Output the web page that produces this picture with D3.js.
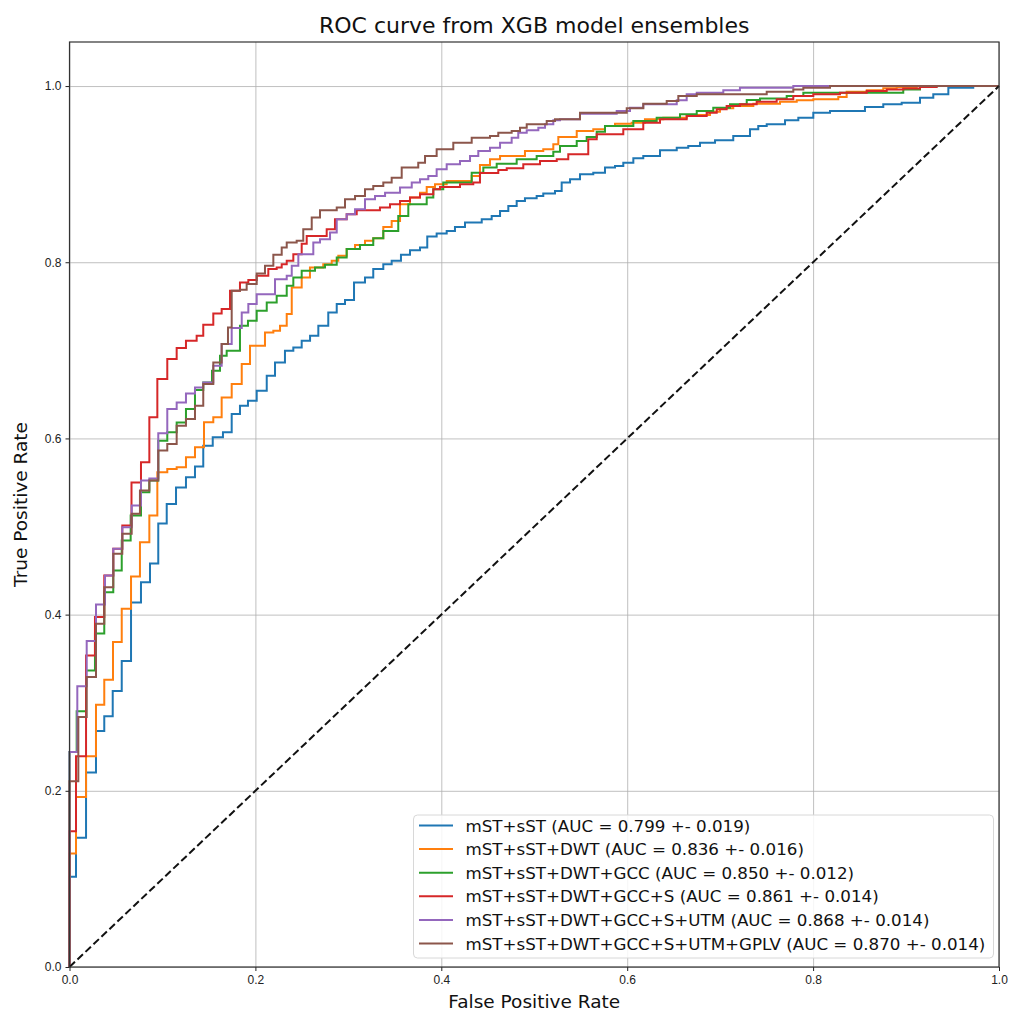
<!DOCTYPE html>
<html>
<head>
<meta charset="utf-8">
<script src="https://cdn.jsdelivr.net/npm/d3@7"></script>
<style>
  body { margin: 0; background: #fff; }
  svg { font-family: "DejaVu Sans", sans-serif; }
  .grid line { stroke: #b0b0b0; stroke-width: 1; stroke-opacity: 0.8; }
  .grid path { display: none; }
  .axis text { font-size: 12px; fill: #222; }
  .axis line { stroke: #222; }
  .axis path { display: none; }
</style>
</head>
<body>
<svg id="chart" width="1011" height="1014"></svg>
<script>
// ROC points [fpr, tpr]
var rocST = [[0,0],[0,0.1024],[0.0070,0.1466],[0.0178,0.2207],[0.0285,0.2679],[0.0374,0.2846],[0.0465,0.3133],
    [0.0562,0.3473],[0.0662,0.4138],[0.0769,0.4368],[0.0866,0.4580],[0.0955,0.5034],[0.1046,0.5257],[0.1146,0.5442],
    [0.1253,0.5559],[0.1350,0.5680],[0.1439,0.5918],[0.1541,0.6012],[0.1651,0.6069],[0.1745,0.6278],[0.1834,0.6372],
    [0.1920,0.6429],[0.2014,0.6542],[0.2122,0.6712],[0.2211,0.6863],[0.2318,0.6995],[0.2408,0.7033],[0.2498,0.7109],
    [0.2588,0.7166],[0.2677,0.7279],[0.2784,0.7430],[0.2875,0.7525],[0.2964,0.7570],[0.3061,0.7770],[0.3179,0.7827],
    [0.3268,0.7922],[0.3376,0.7978],[0.3466,0.8016],[0.3566,0.8084],[0.3663,0.8137],[0.3771,0.8167],[0.3849,0.8291],
    [0.3950,0.8325],[0.4058,0.8356],[0.4147,0.8401],[0.4255,0.8450],[0.4435,0.8489],[0.4542,0.8526],[0.4632,0.8583],
    [0.4721,0.8639],[0.4811,0.8696],[0.4900,0.8727],[0.5026,0.8753],[0.5097,0.8779],[0.5223,0.8810],[0.5295,0.8904],
    [0.5385,0.8942],[0.5492,0.8999],[0.5635,0.9017],[0.5761,0.9074],[0.5869,0.9093],[0.5958,0.9130],[0.6066,0.9180],
    [0.6173,0.9206],[0.6353,0.9271],[0.6533,0.9300],[0.6657,0.9320],[0.6783,0.9357],[0.6945,0.9384],[0.7141,0.9433],
    [0.7321,0.9509],[0.7410,0.9546],[0.7501,0.9566],[0.7698,0.9611],[0.7841,0.9640],[0.8002,0.9697],[0.8182,0.9717],
    [0.8558,0.9762],[0.8755,0.9792],[0.8953,0.9810],[0.9150,0.9867],[0.9293,0.9906],[0.9455,0.9980],[0.9723,1],[1,1]]

var rocDWT = [[0,0],[0,0.1289],[0.0070,0.1931],[0.0178,0.2392],[0.0285,0.2978],[0.0374,0.3262],[0.0468,0.3690],
    [0.0562,0.4067],[0.0662,0.4433],[0.0758,0.4822],[0.0859,0.5125],[0.0945,0.5616],[0.1052,0.5654],[0.1153,0.5672],
    [0.1253,0.5786],[0.1350,0.5899],[0.1447,0.6183],[0.1547,0.6239],[0.1637,0.6466],[0.1745,0.6618],[0.1853,0.6845],
    [0.1942,0.7052],[0.2103,0.7203],[0.2193,0.7222],[0.2265,0.7279],[0.2337,0.7412],[0.2391,0.7713],[0.2498,0.7827],
    [0.2587,0.7940],[0.2730,0.7978],[0.2821,0.8016],[0.2892,0.8073],[0.2982,0.8149],[0.3072,0.8197],[0.3179,0.8243],
    [0.3268,0.8273],[0.3376,0.8401],[0.3466,0.8469],[0.3556,0.8659],[0.3663,0.8734],[0.3771,0.8790],[0.3843,0.8855],
    [0.3932,0.8886],[0.4058,0.8923],[0.4327,0.8980],[0.4416,0.9104],[0.4524,0.9169],[0.4632,0.9206],[0.4900,0.9263],
    [0.5097,0.9282],[0.5205,0.9339],[0.5259,0.9422],[0.5457,0.9490],[0.5635,0.9509],[0.5761,0.9546],[0.5869,0.9572],
    [0.6048,0.9584],[0.6191,0.9623],[0.6388,0.9640],[0.6640,0.9671],[0.6891,0.9709],[0.6998,0.9747],[0.7141,0.9773],
    [0.7357,0.9800],[0.7644,0.9822],[0.7824,0.9838],[0.8002,0.9849],[0.8271,0.9875],[0.8361,0.9935],[0.8577,0.9951],
    [0.8755,0.9974],[0.8899,0.9989],[0.9115,1],[1,1]]

var rocGCC = [[0,0],[0,0.2441],[0.0077,0.2902],[0.0178,0.3367],[0.0274,0.3787],[0.0374,0.4255],[0.0471,0.4501],
    [0.0562,0.4841],[0.0658,0.5125],[0.0769,0.5389],[0.0859,0.5522],[0.0955,0.5975],[0.1052,0.6069],[0.1153,0.6182],
    [0.1253,0.6334],[0.1350,0.6550],[0.1439,0.6636],[0.1533,0.6769],[0.1619,0.6939],[0.1691,0.6995],[0.1834,0.7279],
    [0.1920,0.7336],[0.2014,0.7450],[0.2122,0.7543],[0.2229,0.7619],[0.2337,0.7732],[0.2408,0.7826],[0.2498,0.7902],
    [0.2641,0.7940],[0.2749,0.7971],[0.2875,0.8053],[0.2982,0.8149],[0.3125,0.8197],[0.3268,0.8273],[0.3376,0.8356],
    [0.3537,0.8526],[0.3645,0.8659],[0.3843,0.8734],[0.3914,0.8829],[0.4021,0.8904],[0.4327,0.9017],[0.4452,0.9074],
    [0.4596,0.9119],[0.4811,0.9169],[0.5026,0.9206],[0.5205,0.9255],[0.5277,0.9320],[0.5457,0.9376],[0.5564,0.9422],
    [0.5672,0.9482],[0.5761,0.9546],[0.6066,0.9603],[0.6317,0.9640],[0.6568,0.9679],[0.6748,0.9717],[0.6926,0.9754],
    [0.7106,0.9792],[0.7286,0.9841],[0.7429,0.9860],[0.7716,0.9887],[0.7895,0.9924],[0.8970,0.9962],[0.9150,1],[1,1]]

var rocS = [[0,0],[0,0.1542],[0.0070,0.2392],[0.0178,0.3537],[0.0274,0.3972],[0.0374,0.4444],[0.0471,0.4747],
    [0.0568,0.5011],[0.0667,0.5499],[0.0769,0.5729],[0.0859,0.6239],[0.0945,0.6675],[0.1052,0.6901],[0.1153,0.7026],
    [0.1253,0.7109],[0.1368,0.7166],[0.1439,0.7290],[0.1547,0.7418],[0.1637,0.7468],[0.1727,0.7676],[0.1834,0.7770],
    [0.1924,0.7797],[0.2014,0.7846],[0.2139,0.7922],[0.2229,0.7940],[0.2283,0.7978],[0.2337,0.8016],[0.2408,0.8092],
    [0.2498,0.8209],[0.2552,0.8299],[0.2767,0.8375],[0.2856,0.8489],[0.2982,0.8545],[0.3090,0.8591],[0.3340,0.8620],
    [0.3448,0.8659],[0.3556,0.8696],[0.3663,0.8734],[0.3771,0.8772],[0.3914,0.8829],[0.3986,0.8855],[0.4201,0.8886],
    [0.4344,0.8904],[0.4416,0.9014],[0.4613,0.9048],[0.4704,0.9067],[0.4882,0.9112],[0.5062,0.9150],[0.5242,0.9169],
    [0.5366,0.9226],[0.5581,0.9396],[0.5672,0.9452],[0.5958,0.9509],[0.6173,0.9584],[0.6353,0.9623],[0.6640,0.9660],
    [0.6855,0.9697],[0.6963,0.9736],[0.7070,0.9773],[0.7213,0.9792],[0.7393,0.9822],[0.7608,0.9849],[0.7787,0.9887],
    [0.8002,0.9906],[0.8289,0.9924],[0.8577,0.9943],[0.8792,0.9962],[0.8970,0.9973],[0.9150,0.9989],[0.9330,1],[1,1]]

var rocUTM = [[0,0],[0,0.2441],[0.0084,0.3186],[0.0185,0.3700],[0.0285,0.4116],[0.0382,0.4444],[0.0471,0.4747],
    [0.0568,0.4992],[0.0669,0.5238],[0.0769,0.5522],[0.0859,0.5544],[0.0955,0.6058],[0.1052,0.6334],[0.1153,0.6409],
    [0.1253,0.6511],[0.1350,0.6579],[0.1439,0.6636],[0.1547,0.6825],[0.1637,0.7071],[0.1745,0.7253],[0.1853,0.7430],
    [0.1924,0.7525],[0.2014,0.7638],[0.2211,0.7808],[0.2337,0.7846],[0.2391,0.7959],[0.2462,0.8092],[0.2623,0.8223],
    [0.2695,0.8262],[0.2803,0.8337],[0.2875,0.8489],[0.2982,0.8545],[0.3072,0.8602],[0.3179,0.8715],[0.3287,0.8753],
    [0.3395,0.8790],[0.3556,0.8847],[0.3682,0.8904],[0.3771,0.8942],[0.3860,0.8980],[0.3950,0.9056],[0.4058,0.9112],
    [0.4201,0.9150],[0.4309,0.9206],[0.4398,0.9263],[0.4524,0.9300],[0.4632,0.9357],[0.4757,0.9414],[0.4828,0.9471],
    [0.4919,0.9498],[0.5044,0.9527],[0.5116,0.9566],[0.5205,0.9611],[0.5277,0.9622],[0.5492,0.9686],[0.5887,0.9717],
    [0.6030,0.9754],[0.6173,0.9792],[0.6533,0.9838],[0.6640,0.9906],[0.6748,0.9924],[0.7034,0.9951],[0.7213,0.9981],
    [0.7787,1],[1,1]]

var rocGPLV = [[0,0],[0,0.2109],[0.0095,0.2838],[0.0185,0.3291],[0.0285,0.3897],[0.0374,0.4312],[0.0471,0.4690],
    [0.0568,0.4917],[0.0669,0.5144],[0.0758,0.5408],[0.0859,0.5522],[0.0955,0.5862],[0.1052,0.5938],[0.1153,0.6145],
    [0.1253,0.6221],[0.1350,0.6372],[0.1439,0.6618],[0.1547,0.6863],[0.1637,0.7071],[0.1705,0.7260],[0.1745,0.7676],
    [0.1834,0.7687],[0.1906,0.7752],[0.2014,0.7872],[0.2103,0.7959],[0.2193,0.8084],[0.2283,0.8167],[0.2337,0.8223],
    [0.2444,0.8243],[0.2515,0.8375],[0.2606,0.8507],[0.2695,0.8591],[0.2875,0.8620],[0.2964,0.8715],[0.3072,0.8753],
    [0.3179,0.8829],[0.3268,0.8866],[0.3376,0.8904],[0.3466,0.8960],[0.3574,0.9075],[0.3752,0.9130],[0.3825,0.9206],
    [0.3950,0.9282],[0.4129,0.9357],[0.4327,0.9414],[0.4524,0.9433],[0.4613,0.9471],[0.4757,0.9490],[0.4847,0.9527],
    [0.4919,0.9566],[0.5134,0.9603],[0.5223,0.9622],[0.5492,0.9697],[0.5995,0.9747],[0.6173,0.9799],[0.6425,0.9830],
    [0.6550,0.9887],[0.6748,0.9906],[0.7501,0.9936],[0.7787,0.9962],[0.7895,0.9981],[0.8182,1],[1,1]]

var labels = [
    "mST+sST (AUC = 0.799 +- 0.019)",
    "mST+sST+DWT (AUC = 0.836 +- 0.016)",
    "mST+sST+DWT+GCC (AUC = 0.850 +- 0.012)",
    "mST+sST+DWT+GCC+S (AUC = 0.861 +- 0.014)",
    "mST+sST+DWT+GCC+S+UTM (AUC = 0.868 +- 0.014)",
    "mST+sST+DWT+GCC+S+UTM+GPLV (AUC = 0.870 +- 0.014)"
]
var curves = [rocST, rocDWT, rocGCC, rocS, rocUTM, rocGPLV]
var colors = ["#1f77b4", "#ff7f0e", "#2ca02c", "#d62728", "#9467bd", "#8c564b"]
var tickVals = [0, 0.2, 0.4, 0.6, 0.8, 1.0]

var svg = d3.select("svg#chart")
// plot box (window.top is read-only, so no bare "top")
var box = { left: 69.5, right: 999, top: 42, bottom: 967 }

var x = d3.scaleLinear().domain([0, 1]).range([box.left, box.right])
var y = d3.scaleLinear().domain([0, 1.05]).range([box.bottom, box.top])

// grid
svg.append("g").attr("class", "grid").attr("transform", "translate(0," + box.bottom + ")")
    .call(d3.axisBottom(x).tickValues(tickVals).tickSize(-(box.bottom - box.top)).tickFormat(""))
svg.append("g").attr("class", "grid").attr("transform", "translate(" + box.left + ",0)")
    .call(d3.axisLeft(y).tickValues(tickVals).tickSize(-(box.right - box.left)).tickFormat(""))

// curves
var line = d3.line().x(function (d) { return x(d[0]) }).y(function (d) { return y(d[1]) }).curve(d3.curveStepAfter)
var plot = svg.append("g")
curves.forEach(function (c, i) {
    plot.append("path").datum(c)
        .attr("d", line)
        .attr("fill", "none")
        .attr("stroke", colors[i])
        .attr("stroke-width", 2)
})

plot.append("path").datum([[0, 0], [1, 1]])
    .attr("d", d3.line().x(function (d) { return x(d[0]) }).y(function (d) { return y(d[1]) }))
    .attr("fill", "none").attr("stroke", "#111").attr("stroke-width", 2)
    .attr("stroke-dasharray", "7.5,3.5")

// axes
svg.append("g").attr("class", "axis").attr("transform", "translate(0," + box.bottom + ")")
    .call(d3.axisBottom(x).tickValues(tickVals).tickFormat(d3.format(".1f")).tickSize(4).tickPadding(4))
svg.append("g").attr("class", "axis").attr("transform", "translate(" + box.left + ",0)")
    .call(d3.axisLeft(y).tickValues(tickVals).tickFormat(d3.format(".1f")).tickSize(4).tickPadding(4))

svg.append("rect").attr("x", box.left).attr("y", box.top)
    .attr("width", box.right - box.left).attr("height", box.bottom - box.top)
    .attr("fill", "none").attr("stroke", "#333").attr("stroke-width", 1.2)

// texts
var midX = (box.left + box.right) / 2
svg.append("text").attr("x", midX).attr("y", 33).attr("text-anchor", "middle")
    .style("font-size", "22px").attr("fill", "#111").text("ROC curve from XGB model ensembles")
svg.append("text").attr("x", midX).attr("y", 1008).attr("text-anchor", "middle")
    .style("font-size", "18.5px").attr("fill", "#111").text("False Positive Rate")
svg.append("text").attr("transform", "translate(27," + ((box.top + box.bottom) / 2) + ") rotate(-90)")
    .attr("text-anchor", "middle").style("font-size", "18.5px").attr("fill", "#111").text("True Positive Rate")

// legend
var legend = svg.append("g")
legend.append("rect").attr("x", 413.5).attr("y", 815).attr("width", 580).attr("height", 143)
    .attr("rx", 4).attr("fill", "#fff").attr("fill-opacity", 0.85).attr("stroke", "#d8d8d8")
labels.forEach(function (t, i) {
    var ly = 825.5 + i * 23.6
    legend.append("line").attr("x1", 419).attr("x2", 453).attr("y1", ly).attr("y2", ly)
        .attr("stroke", colors[i]).attr("stroke-width", 2)
    legend.append("text").attr("x", 465.5).attr("y", ly).attr("dy", "0.36em")
        .style("font-size", "16.7px").attr("fill", "#111").text(t)
})
</script>
</body>
</html>
